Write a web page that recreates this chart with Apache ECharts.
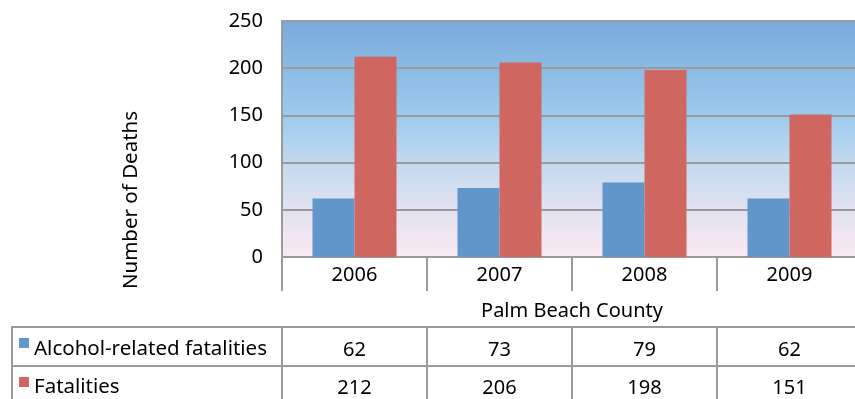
<!DOCTYPE html>
<html>
<head>
<meta charset="utf-8">
<script src="https://cdn.jsdelivr.net/npm/echarts@6/dist/echarts.min.js"></script>
<style>
  html, body { margin: 0; padding: 0; background: #fff; }
  #chart { width: 855px; height: 399px; }
</style>
</head>
<body>
<div id="chart"></div>
<script>
// Chart data
const years = ['2006', '2007', '2008', '2009'];
const alcoholFatalities = [62, 73, 79, 62];
const fatalities = [212, 206, 198, 151];
const seriesNames = ['Alcohol-related fatalities', 'Fatalities'];
const regionLabel = 'Palm Beach County';
const yAxisTitle = 'Number of Deaths';
const yTicks = { min: 0, max: 250, interval: 50 };

const FONT = 'Noto Sans';
const FS = 20;
const LINE = '#9b9b9b';
const BLUE = '#6096c9';
const RED = '#cf6660';

const chart = echarts.init(document.getElementById('chart'), null, { renderer: 'canvas' });

// A category axis reused for each data-table row beneath the plot
function tableRowAxis(values, offset, margin, tickLen) {
  return {
    type: 'category',
    data: values.map(String),
    position: 'bottom',
    offset: offset,
    axisLine: { show: true, lineStyle: { color: LINE, width: 2 } },
    axisTick: { show: true, inside: false, length: tickLen, lineStyle: { color: LINE, width: 2 } },
    axisLabel: { interval: 0, margin: margin, color: '#000', fontSize: FS, fontFamily: FONT },
    splitLine: { show: false }
  };
}

const font = FS + 'px "' + FONT + '"';

const option = {
  animation: false,
  backgroundColor: '#fff',
  grid: {
    // plot runs a little past the right edge of the canvas
    left: 282, width: 580, top: 21, bottom: 142,
    outerBoundsMode: 'none',
    containLabel: false,
    show: true, borderWidth: 0,
    backgroundColor: new echarts.graphic.LinearGradient(0, 0, 0, 1, [
      { offset: 0, color: '#7aaadc' },
      { offset: 0.4, color: '#9ccaec' },
      { offset: 0.6, color: '#c2d9ee' },
      { offset: 0.8, color: '#e2e2f2' },
      { offset: 1, color: '#fae9f1' }
    ])
  },
  xAxis: [
    {
      type: 'category',
      data: years,
      position: 'bottom',
      axisLine: { show: true, lineStyle: { color: LINE, width: 2 } },
      axisTick: { show: true, length: 34, lineStyle: { color: LINE, width: 2 } },
      axisLabel: { interval: 0, margin: 8, color: '#000', fontSize: FS, fontFamily: FONT },
      splitLine: { show: false }
    },
    tableRowAxis(alcoholFatalities, 70, 13, 72),
    tableRowAxis(fatalities, 109, 12, 40)
  ],
  yAxis: {
    type: 'value',
    min: yTicks.min, max: yTicks.max, interval: yTicks.interval,
    axisLine: { show: true, lineStyle: { color: LINE, width: 2 } },
    axisTick: { show: false },
    axisLabel: { margin: 19, color: '#000', fontSize: FS, fontFamily: FONT },
    splitLine: { show: true, lineStyle: { color: LINE, width: 2 } }
  },
  series: [
    {
      name: seriesNames[0], type: 'bar', data: alcoholFatalities,
      barWidth: 42, barGap: '0%',
      itemStyle: { color: BLUE }
    },
    {
      name: seriesNames[1], type: 'bar', data: fatalities,
      barWidth: 42, barGap: '0%',
      itemStyle: { color: RED }
    }
  ],
  graphic: [
    // vertical axis title, centred on plot + table
    { type: 'text', x: 131, y: 200, rotation: Math.PI / 2,
      style: { text: yAxisTitle, fill: '#000', font: '20.5px "' + FONT + '"', align: 'center', verticalAlign: 'middle' } },
    // region caption row
    { type: 'text', x: 572, y: 311,
      style: { text: regionLabel, fill: '#000', font: font, align: 'center', verticalAlign: 'middle' } },
    // left part of the data table
    { type: 'line', shape: { x1: 12, y1: 327, x2: 283, y2: 327 }, style: { stroke: LINE, lineWidth: 2 } },
    { type: 'line', shape: { x1: 12, y1: 366, x2: 283, y2: 366 }, style: { stroke: LINE, lineWidth: 2 } },
    { type: 'line', shape: { x1: 12, y1: 326, x2: 12, y2: 399 }, style: { stroke: LINE, lineWidth: 2 } },
    // legend keys
    { type: 'rect', shape: { x: 19, y: 338, width: 10, height: 10 }, style: { fill: BLUE } },
    { type: 'text', x: 34, y: 349,
      style: { text: seriesNames[0], fill: '#000', font: '20.5px "' + FONT + '"', verticalAlign: 'middle' } },
    { type: 'rect', shape: { x: 19, y: 377, width: 10, height: 10 }, style: { fill: RED } },
    { type: 'text', x: 34, y: 387,
      style: { text: seriesNames[1], fill: '#000', font: '20.5px "' + FONT + '"', verticalAlign: 'middle' } }
  ]
};

chart.setOption(option);
</script>
</body>
</html>
